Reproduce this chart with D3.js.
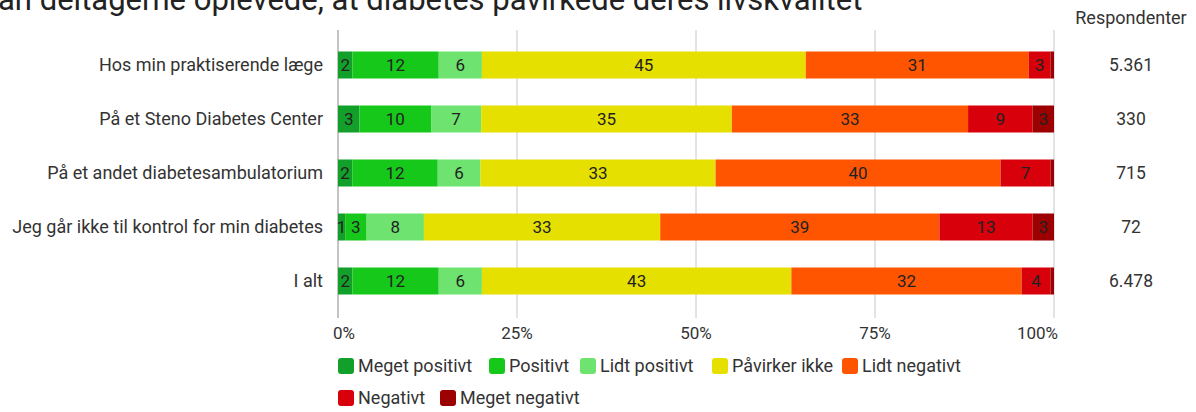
<!DOCTYPE html>
<html>
<head>
<meta charset="utf-8">
<script src="https://cdn.jsdelivr.net/npm/d3@7"></script>
<style>
  body { margin: 0; background: #fff; }
  text { font-family: Roboto, "Noto Sans", sans-serif; }
</style>
</head>
<body>
<script>
var width = 1196, height = 412;

// data
var categories = [
  "Hos min praktiserende læge",
  "På et Steno Diabetes Center",
  "På et andet diabetesambulatorium",
  "Jeg går ikke til kontrol for min diabetes",
  "I alt"
];
var respondents = ["5.361", "330", "715", "72", "6.478"];
var seriesNames = ["Meget positivt", "Positivt", "Lidt positivt", "Påvirker ikke",
                   "Lidt negativt", "Negativt", "Meget negativt"];
var megetPositivt = [2, 3, 2, 1, 2];
var positivt      = [12, 10, 12, 3, 12];
var lidtPositivt  = [6, 7, 6, 8, 6];
var paavirkerIkke = [45, 35, 33, 33, 43];
var lidtNegativt  = [31, 33, 40, 39, 32];
var negativt      = [3, 9, 7, 13, 4];
var megetNegativt = [0.5, 3, 0.5, 3, 0.5];
var tickValues = [0, 0.25, 0.5, 0.75, 1];
var tickLabels = ["0%", "25%", "50%", "75%", "100%"];

var colors = ["#12a02a", "#16c81a", "#6fe36f", "#e6e000", "#ff5500", "#d8000a", "#9c0000"];
var seriesValues = [megetPositivt, positivt, lidtPositivt, paavirkerIkke,
                    lidtNegativt, negativt, megetNegativt];

var rows = categories.map(function (c, i) {
  var row = { cat: c };
  var total = 0;
  seriesNames.forEach(function (s, k) { total += seriesValues[k][i]; });
  seriesNames.forEach(function (s, k) { row[s] = seriesValues[k][i] / total; row[s + "_raw"] = seriesValues[k][i]; });
  return row;
});

var stack = d3.stack().keys(seriesNames)(rows);

var svg = d3.select('body').append('svg')
    .attr('width', width)
    .attr('height', height);

var x = d3.scaleLinear().domain([0, 1]).range([338, 1054]);
var y = d3.scaleBand().domain(categories).range([38, 308]).paddingInner(0.5).paddingOuter(0.25);

// title (cut off at the top)
svg.append('text')
    .attr('x', -2)
    .attr('y', 10)
    .attr('font-size', 31)
    .attr('fill', '#222')
    .text('an deltagerne oplevede, at diabetes påvirkede deres livskvalitet');

// gridlines
svg.append('g').selectAll('line')
    .data(tickValues)
    .enter().append('line')
        .attr('x1', function (d) { return x(d); })
        .attr('x2', function (d) { return x(d); })
        .attr('y1', 30)
        .attr('y2', 318)
        .attr('stroke', function (d) { return d === 0 ? '#888' : '#c8c8c8'; })
        .attr('stroke-width', 1);

// tick labels
svg.append('g').selectAll('text')
    .data(tickValues)
    .enter().append('text')
        .attr('x', function (d, i) { return i === 0 ? x(d) - 5 : (i === tickValues.length - 1 ? x(d) + 4 : x(d)); })
        .attr('y', 339)
        .attr('text-anchor', function (d, i) { return i === 0 ? 'start' : (i === tickValues.length - 1 ? 'end' : 'middle'); })
        .attr('font-size', 17)
        .attr('fill', '#333')
        .text(function (d, i) { return tickLabels[i]; });

// bars
var groups = svg.append('g').selectAll('g')
    .data(stack)
    .enter().append('g')
        .attr('fill', function (d, i) { return colors[i]; });

groups.selectAll('rect')
    .data(function (d) { return d; })
    .enter().append('rect')
        .attr('x', function (d) { return x(d[0]); })
        .attr('y', function (d) { return y(d.data.cat); })
        .attr('width', function (d) { return x(d[1]) - x(d[0]); })
        .attr('height', y.bandwidth());

groups.selectAll('text')
    .data(function (d) { return d.map(function (p) { p.key = d.key; return p; }); })
    .enter().append('text')
        .filter(function (d) { return d.data[d.key + "_raw"] >= 1; })
        .attr('x', function (d) { return (x(d[0]) + x(d[1])) / 2; })
        .attr('y', function (d) { return y(d.data.cat) + y.bandwidth() / 2; })
        .attr('dy', '0.35em')
        .attr('text-anchor', 'middle')
        .attr('font-size', 17)
        .attr('fill', '#222')
        .text(function (d) { return d.data[d.key + "_raw"]; });

// category labels
svg.append('g').selectAll('text')
    .data(categories)
    .enter().append('text')
        .attr('x', 323)
        .attr('y', function (d) { return y(d) + y.bandwidth() / 2; })
        .attr('dy', '0.35em')
        .attr('text-anchor', 'end')
        .attr('font-size', 18)
        .attr('fill', '#333')
        .text(function (d) { return d; });

// respondents
svg.append('text')
    .attr('x', 1131)
    .attr('y', 24)
    .attr('text-anchor', 'middle')
    .attr('font-size', 18)
    .attr('fill', '#333')
    .text('Respondenter');

svg.append('g').selectAll('text')
    .data(respondents)
    .enter().append('text')
        .attr('x', 1131)
        .attr('y', function (d, i) { return y(categories[i]) + y.bandwidth() / 2; })
        .attr('dy', '0.35em')
        .attr('text-anchor', 'middle')
        .attr('font-size', 17.5)
        .attr('fill', '#333')
        .text(function (d) { return d; });

// legend
var legendPos = [[338, 366], [489, 366], [580, 366], [712, 366], [842, 366], [338, 398], [440, 398]];
var legend = svg.append('g').selectAll('g')
    .data(seriesNames)
    .enter().append('g')
        .attr('transform', function (d, i) { return 'translate(' + legendPos[i][0] + ',' + legendPos[i][1] + ')'; });

legend.append('rect')
    .attr('x', 0)
    .attr('y', -8)
    .attr('width', 16)
    .attr('height', 16)
    .attr('rx', 3)
    .attr('fill', function (d, i) { return colors[i]; });

legend.append('text')
    .attr('x', 20)
    .attr('y', 0)
    .attr('dy', '0.35em')
    .attr('font-size', 18)
    .attr('fill', '#333')
    .text(function (d) { return d; });
</script>
</body>
</html>
